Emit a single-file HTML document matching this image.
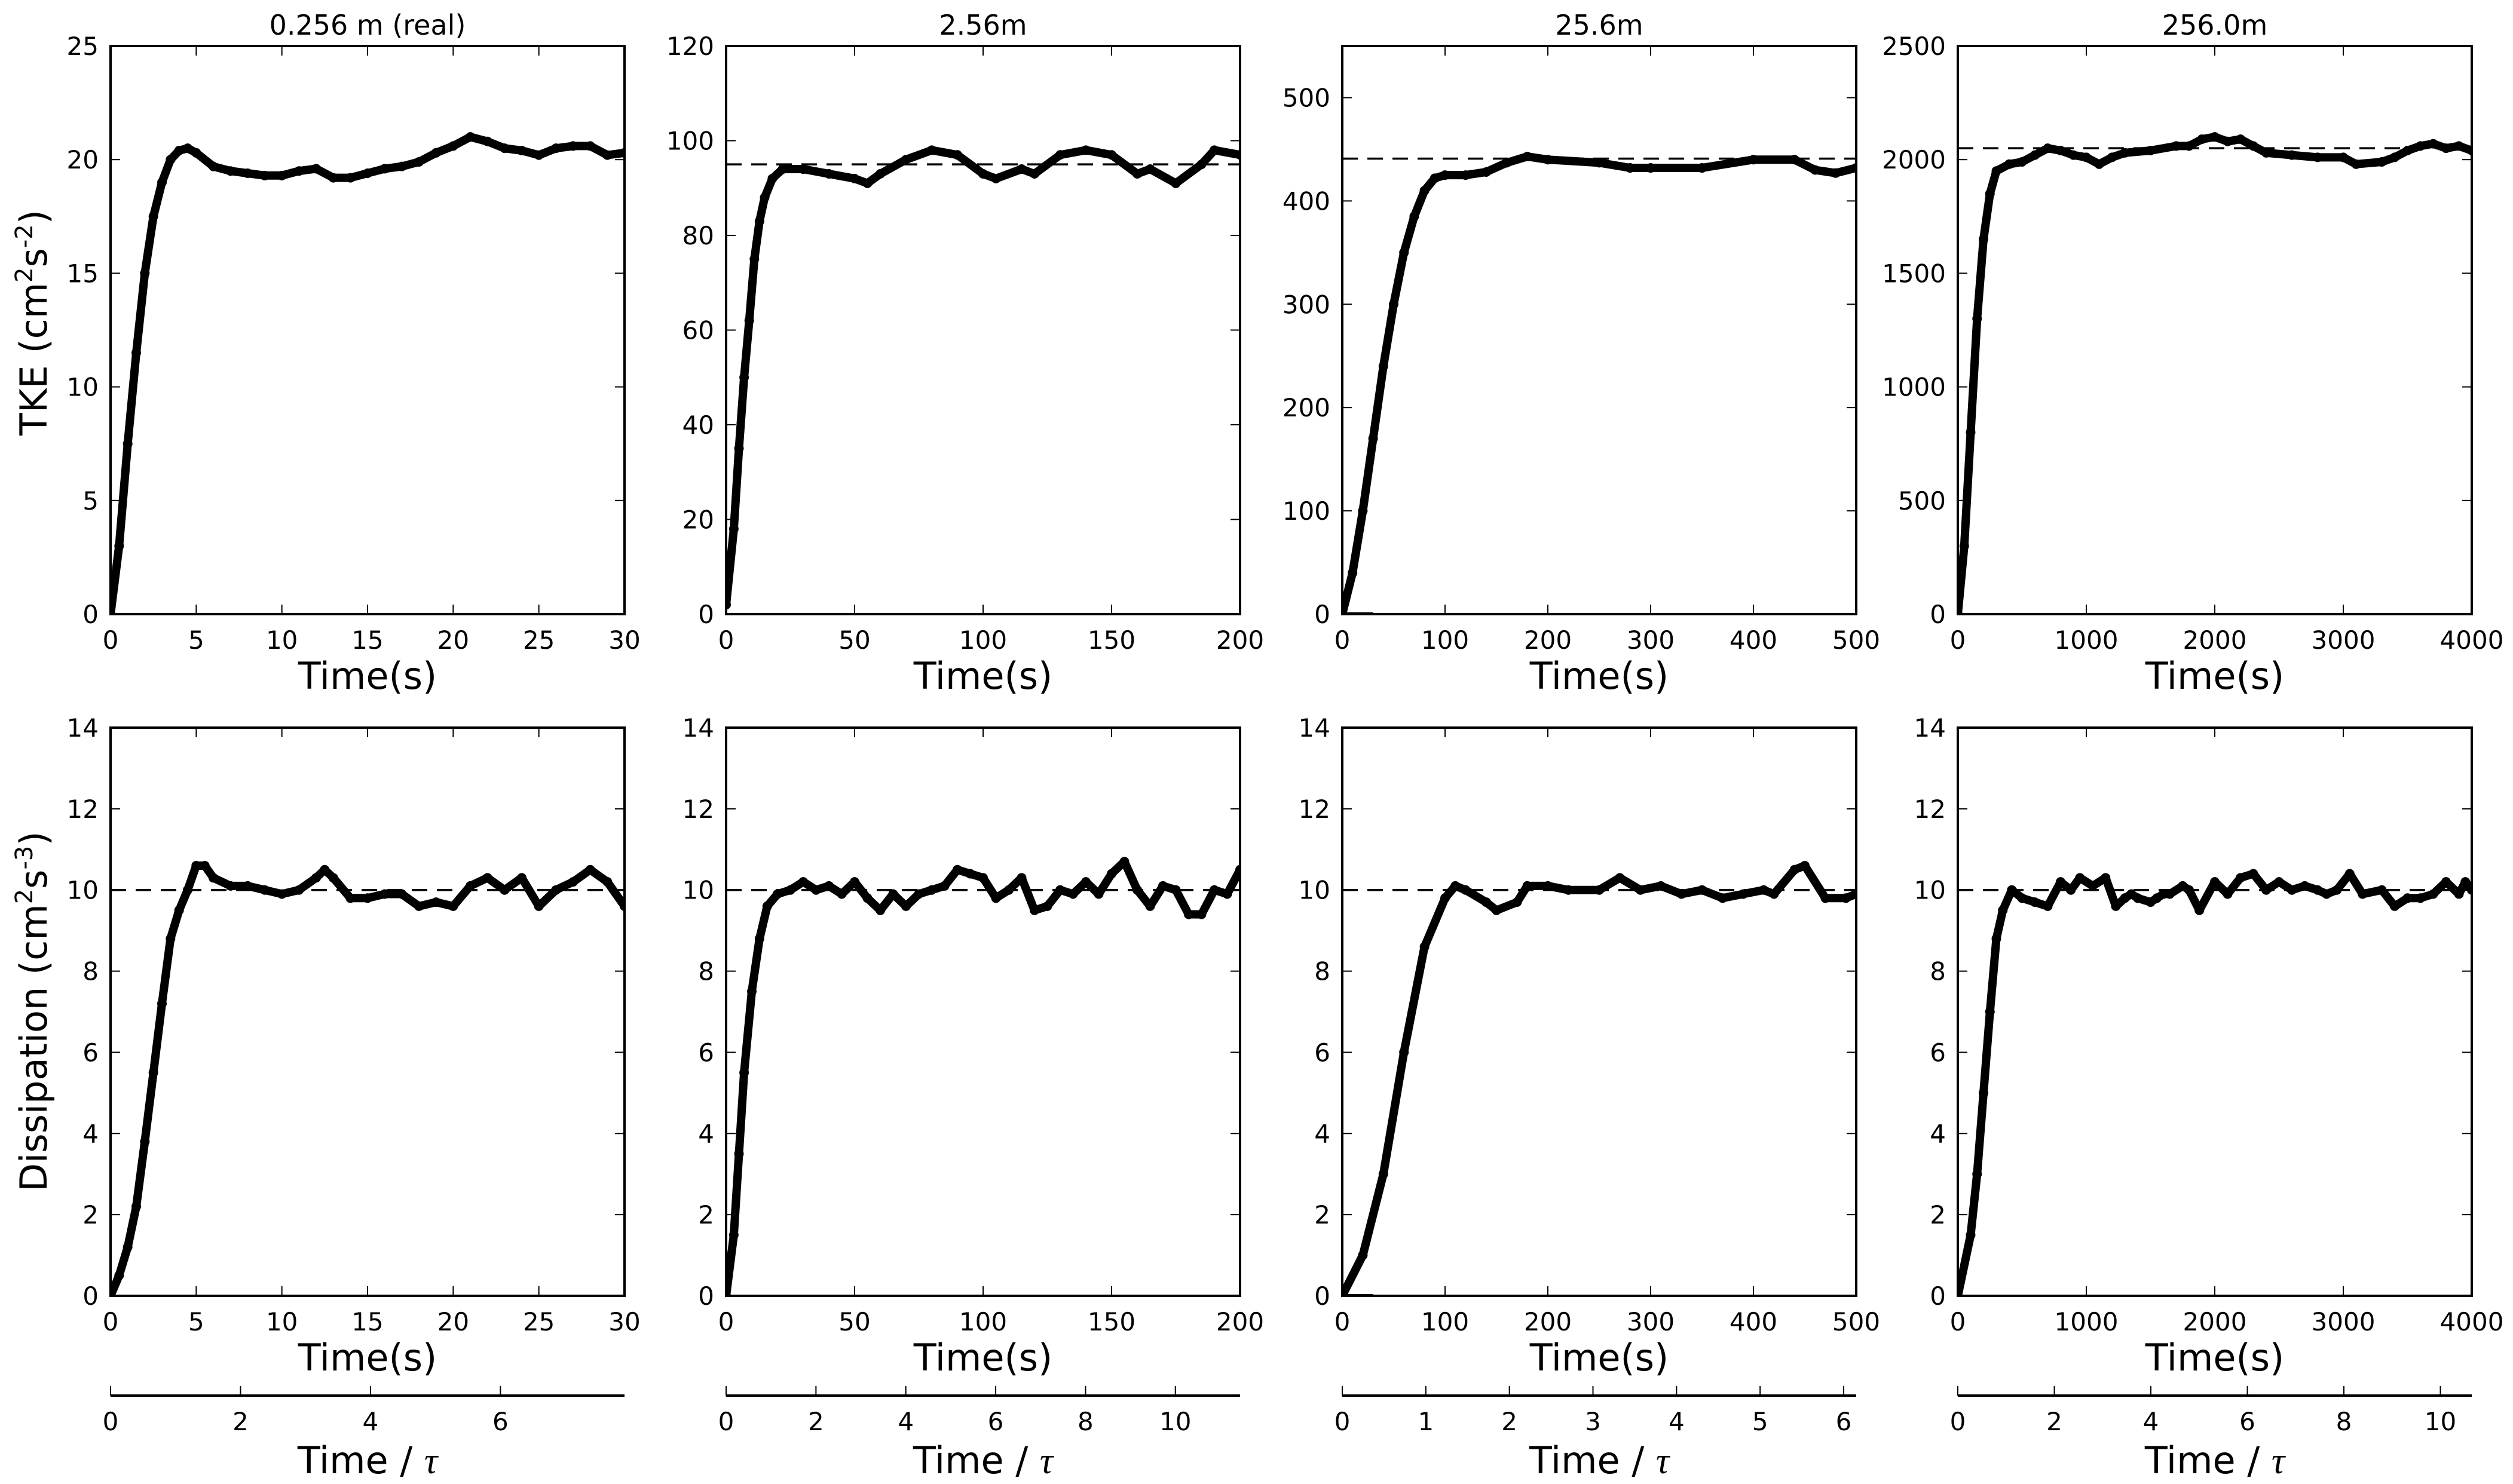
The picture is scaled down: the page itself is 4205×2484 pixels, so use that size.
<!DOCTYPE html>
<html><head><meta charset="utf-8"><style>
html,body{margin:0;padding:0;background:#fff}
svg{display:block}
text{font-family:"DejaVu Sans","Liberation Sans",sans-serif;fill:#000}
</style></head><body>
<svg id="fig" width="4205" height="2484" viewBox="0 0 4205 2484" xmlns="http://www.w3.org/2000/svg">
<rect width="4205" height="2484" fill="#fff"/>
<text transform="translate(78,540) rotate(-90)" text-anchor="middle" font-size="62">TKE (cm<tspan font-size="40" dy="-24">2</tspan><tspan dy="24">s</tspan><tspan font-size="40" dy="-24">-2</tspan><tspan dy="24">)</tspan></text>
<text transform="translate(78,1693) rotate(-90)" text-anchor="middle" font-size="62">Dissipation (cm<tspan font-size="40" dy="-24">2</tspan><tspan dy="24">s</tspan><tspan font-size="40" dy="-24">-3</tspan><tspan dy="24">)</tspan></text>
</svg>
<script>
// ---- data ----
const titles = ["0.256 m (real)", "2.56m", "25.6m", "256.0m"];
const xMax = [30, 200, 500, 4000];
const xTickStep = [5, 50, 100, 1000];
const tkeYMax = [25, 120, 550, 2500];
const tkeYTickMax = [25, 120, 500, 2500];
const tkeYTickStep = [5, 20, 100, 500];
const tkeRef = [null, 95, 441, 2050];
const dissYMax = 14;
const dissYTickStep = 2;
const dissRef = 10;
const tauMax = [7.91, 11.44, 6.15, 10.65];
const tauTickStep = [2, 2, 1, 2];
const tauTickMax = [6, 10, 6, 10];

const tkeT1 = [0,0.5,1,1.5,2,2.5,3,3.5,4,4.5,5,6,7,8,9,10,11,12,13,14,15,16,17,18,19,20,21,22,23,24,25,26,27,28,29,30];
const tkeV1 = [0,3,7.5,11.5,15,17.5,19,20,20.4,20.5,20.3,19.7,19.5,19.4,19.3,19.3,19.5,19.6,19.2,19.2,19.4,19.6,19.7,19.9,20.3,20.6,21.0,20.8,20.5,20.4,20.2,20.5,20.6,20.6,20.2,20.3];
const tkeT2 = [0,3,5,7,9,11,13,15,18,22,30,40,50,55,60,70,80,90,100,105,115,120,130,140,150,160,165,175,185,190,200];
const tkeV2 = [2,18,35,50,62,75,83,88,92,94,94,93,92,91,93,96,98,97,93,92,94,93,97,98,97,93,94,91,95,98,97];
const tkeT3 = [0,10,20,30,40,50,60,70,80,90,100,120,140,160,180,200,250,280,300,350,400,440,460,480,500];
const tkeV3 = [0,40,100,170,240,300,350,385,410,422,425,425,428,437,443,440,437,432,432,432,440,440,430,427,432];
const tkeT4 = [0,50,100,150,200,250,300,400,500,600,700,800,900,1000,1100,1200,1300,1500,1700,1800,1900,2000,2100,2200,2300,2400,2600,2800,3000,3100,3300,3400,3500,3600,3700,3800,3900,4000];
const tkeV4 = [0,300,800,1300,1650,1850,1950,1980,1990,2020,2050,2040,2020,2010,1980,2010,2030,2040,2060,2060,2090,2100,2080,2090,2060,2030,2020,2010,2010,1980,1990,2010,2040,2060,2070,2050,2060,2040];

const dT1 = [0,0.5,1,1.5,2,2.5,3,3.5,4,4.5,5,5.5,6,7,8,9,10,11,12,12.5,13,14,15,16,17,18,19,20,21,22,23,24,25,26,27,28,29,30];
const dV1 = [0,0.5,1.2,2.2,3.8,5.5,7.2,8.8,9.5,10.0,10.6,10.6,10.3,10.1,10.1,10.0,9.9,10.0,10.3,10.5,10.3,9.8,9.8,9.9,9.9,9.6,9.7,9.6,10.1,10.3,10.0,10.3,9.6,10.0,10.2,10.5,10.2,9.6];
const dT2 = [0,3,5,7,10,13,16,20,25,30,35,40,45,50,55,60,65,70,75,80,85,90,95,100,105,110,115,120,125,130,135,140,145,150,155,160,165,170,175,180,185,190,195,200];
const dV2 = [0,1.5,3.5,5.5,7.5,8.8,9.6,9.9,10.0,10.2,10.0,10.1,9.9,10.2,9.8,9.5,9.9,9.6,9.9,10.0,10.1,10.5,10.4,10.3,9.8,10.0,10.3,9.5,9.6,10.0,9.9,10.2,9.9,10.4,10.7,10.0,9.6,10.1,10.0,9.4,9.4,10.0,9.9,10.5];
const dT3 = [0,20,40,60,80,100,110,120,140,150,170,180,200,220,250,270,290,310,330,350,370,390,410,420,440,450,470,490,500];
const dV3 = [0,1.0,3,6,8.6,9.8,10.1,10.0,9.7,9.5,9.7,10.1,10.1,10.0,10.0,10.3,10.0,10.1,9.9,10.0,9.8,9.9,10.0,9.9,10.5,10.6,9.8,9.8,9.9];
const dT4 = [0,100,150,200,250,300,350,420,500,600,700,800,880,950,1050,1150,1230,1300,1350,1400,1500,1550,1600,1650,1750,1800,1880,2000,2100,2200,2300,2400,2500,2600,2700,2800,2870,2950,3050,3150,3300,3400,3500,3600,3700,3800,3900,3950,4000];
const dV4 = [0,1.5,3,5,7,8.8,9.5,10.0,9.8,9.7,9.6,10.2,10.0,10.3,10.1,10.3,9.6,9.8,9.9,9.8,9.7,9.8,9.9,9.9,10.1,10.0,9.5,10.2,9.9,10.3,10.4,10.0,10.2,10.0,10.1,10.0,9.9,10.0,10.4,9.9,10.0,9.6,9.8,9.8,9.9,10.2,9.9,10.2,10.0];

const zeroSegT = [0, 30];
const zeroSegV = [0, 0];

const tkeT = [tkeT1, tkeT2, tkeT3, tkeT4];
const tkeV = [tkeV1, tkeV2, tkeV3, tkeV4];
const dT = [dT1, dT2, dT3, dT4];
const dV = [dV1, dV2, dV3, dV4];

// ---- layout ----
const NS = "http://www.w3.org/2000/svg";
const svg = document.getElementById("fig");
const panelLeft = [185, 1215, 2246, 3276];
const panelW = 860;
const rowTop = [77, 1218];
const panelH = 951;
const tauY = 2336;

function el(tag, attrs, parent) {
  const e = document.createElementNS(NS, tag);
  for (const k in attrs) e.setAttribute(k, attrs[k]);
  (parent || svg).appendChild(e);
  return e;
}
function txt(str, x, y, size, anchor, parent) {
  const t = el("text", {x: x, y: y, "font-size": size, "text-anchor": anchor || "middle"}, parent);
  t.textContent = str;
  return t;
}
function fmt(v) { return String(Math.round(v * 1000) / 1000); }

function drawPanel(row, i, T, V, yMax, yTickMax, yStep, ref, extraT, extraV) {
  const L = panelLeft[i], Tp = rowTop[row], W = panelW, H = panelH;
  const g = el("g", {});
  
  
  const sx = v => L + v / xMax[i] * W;
  const sy = v => Tp + H - v / yMax * H;
  const clip = el("clipPath", {id: "c" + row + i}, g);
  el("rect", {x: L, y: Tp - 10, width: W, height: H + 10}, clip);
  // ref line
  if (ref !== null) {
    const d = el("line", {x1: L, x2: L + W, y1: sy(ref), y2: sy(ref), stroke: "#000", "stroke-width": 3.5, "stroke-dasharray": "26,16"}, g);
    
    
  }
  // series
  const sg = el("g", {"clip-path": "url(#c" + row + i + ")"}, g);
  
  
  const pts = T.map((t, k) => sx(t).toFixed(1) + "," + sy(V[k]).toFixed(1)).join(" ");
  const pl = el("polyline", {points: pts, fill: "none", stroke: "#000", "stroke-width": 14, "stroke-linejoin": "round", "stroke-linecap": "round"}, sg);
  
  
  T.forEach((t, k) => {
    const c = el("circle", {cx: sx(t), cy: sy(V[k]), r: 8, fill: "#000"}, sg);
    
    
  });
  if (extraT) {
    const ep = el("polyline", {points: extraT.map((t, k) => sx(t) + "," + sy(extraV[k])).join(" "), fill: "none", stroke: "#000", "stroke-width": 6}, sg);
    
    
  }
  // frame
  const fr = el("rect", {x: L, y: Tp, width: W, height: H, fill: "none", stroke: "#000", "stroke-width": 4}, g);
  
  
  // x ticks
  for (let v = 0; v <= xMax[i] + 1e-9; v += xTickStep[i]) {
    const x = sx(v);
    el("line", {x1: x, x2: x, y1: Tp + H, y2: Tp + H - 16, stroke: "#000", "stroke-width": 2}, g);
    el("line", {x1: x, x2: x, y1: Tp, y2: Tp + 16, stroke: "#000", "stroke-width": 2}, g);
    const t = txt(fmt(v), x, Tp + H + 58, 42, "middle", g);
    
    
  }
  // y ticks
  for (let v = 0; v <= yTickMax + 1e-9; v += yStep) {
    const y = sy(v);
    el("line", {x1: L, x2: L + 16, y1: y, y2: y, stroke: "#000", "stroke-width": 2}, g);
    el("line", {x1: L + W, x2: L + W - 16, y1: y, y2: y, stroke: "#000", "stroke-width": 2}, g);
    const t = txt(fmt(v), L - 20, y + 15, 42, "end", g);
    
    
  }
  const xl = txt("Time(s)", L + W / 2, Tp + H + 125, 62, "middle", g);
  
  
  if (row === 0) {
    const tt = txt(titles[i], L + W / 2, 58, 46, "middle", g);
    
    
  }
}

for (let i = 0; i < 4; i++) {
  drawPanel(0, i, tkeT[i], tkeV[i], tkeYMax[i], tkeYTickMax[i], tkeYTickStep[i], tkeRef[i], i === 2 ? zeroSegT : null, zeroSegV);
  drawPanel(1, i, dT[i], dV[i], dissYMax, dissYMax, dissYTickStep, dissRef, i === 2 ? zeroSegT : null, zeroSegV);
  // tau axis
  const L = panelLeft[i];
  const g = el("g", {});
  
  
  el("line", {x1: L, x2: L + panelW, y1: tauY, y2: tauY, stroke: "#000", "stroke-width": 4}, g);
  for (let v = 0; v <= tauTickMax[i] + 1e-9; v += tauTickStep[i]) {
    const x = L + v / tauMax[i] * panelW;
    el("line", {x1: x, x2: x, y1: tauY, y2: tauY - 16, stroke: "#000", "stroke-width": 2}, g);
    const t = txt(fmt(v), x, tauY + 58, 42, "middle", g);
    
    
  }
  const tl = el("text", {x: L + panelW / 2, y: tauY + 130, "font-size": 62, "text-anchor": "middle"}, g);
  
  
  tl.innerHTML = 'Time / <tspan font-style="italic" font-family="Liberation Serif, serif">τ</tspan>';
}
</script>
</body></html>
